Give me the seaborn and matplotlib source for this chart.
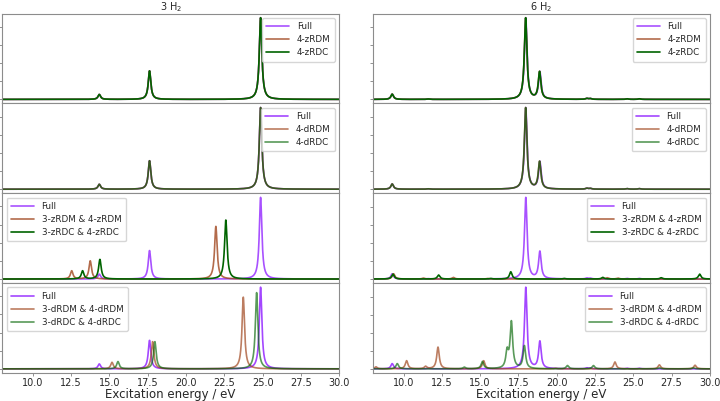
import matplotlib
matplotlib.use("Agg")
import matplotlib.pyplot as plt
import seaborn as sns
import numpy as np
from matplotlib.ticker import MultipleLocator, FormatStrFormatter

# peak positions (eV) and intensities, 3 H2 system
full_3_pos = [14.34, 17.62, 24.87]
full_3_int = [0.27, 1.57, 4.5]
z4_3_pos = [14.34, 17.62, 24.87]
z4_3_int = [0.27, 1.57, 4.5]
d4_3_pos = [14.34, 17.62, 24.87]
d4_3_int = [0.27, 1.57, 4.5]
zrdm_3_pos = [12.54, 13.75, 21.95]
zrdm_3_int = [0.45, 1.0, 2.9]
zrdc_3_pos = [13.25, 14.38, 22.6]
zrdc_3_int = [0.45, 1.08, 3.25]
drdm_3_pos = [15.17, 17.82, 23.74]
drdm_3_int = [0.36, 1.5, 3.95]
drdc_3_pos = [15.56, 17.97, 24.61]
drdc_3_int = [0.4, 1.5, 4.2]

# 6 H2 system
full_6_pos = [9.26, 11.6, 17.98, 18.9, 21.97, 22.2, 24.6, 25.4]
full_6_int = [0.29, 0.02, 4.5, 1.5, 0.05, 0.04, 0.03, 0.03]
z4_6_pos = [9.26, 11.6, 17.97, 18.88, 21.97, 22.2, 24.6, 25.4]
z4_6_int = [0.29, 0.02, 4.5, 1.5, 0.05, 0.04, 0.03, 0.03]
d4_6_pos = [9.26, 11.6, 17.97, 18.88, 21.97, 22.2, 24.6, 25.4]
d4_6_int = [0.29, 0.02, 4.5, 1.5, 0.05, 0.04, 0.03, 0.03]
zrdm_6_pos = [9.35, 11.3, 13.25, 15.5, 23.3, 24.0]
zrdm_6_int = [0.29, 0.05, 0.09, 0.03, 0.07, 0.05]
zrdc_6_pos = [9.31, 12.29, 15.7, 17.0, 20.5, 23.01, 26.82, 29.33]
zrdc_6_int = [0.27, 0.22, 0.03, 0.4, 0.03, 0.09, 0.07, 0.27]
drdm_6_pos = [8.2, 10.2, 11.44, 12.25, 15.23, 19.94, 23.8, 26.7, 29.03]
drdm_6_int = [0.11, 0.45, 0.13, 1.2, 0.45, 0.03, 0.38, 0.22, 0.2]
drdc_6_pos = [9.59, 13.97, 15.15, 16.76, 17.04, 17.89, 20.7, 22.4, 26.7, 28.93]
drdc_6_int = [0.29, 0.09, 0.4, 0.9, 2.55, 1.25, 0.18, 0.18, 0.05, 0.05]

gamma = 0.1  # lorentzian half width (eV)
energy = np.arange(8.0, 30.0, 0.005)


def spectrum(pos, inten):
    y = np.zeros_like(energy)
    for p, h in zip(pos, inten):
        y += h * gamma**2 / ((energy - p)**2 + gamma**2)
    return y


sns.set_style("white")
plt.rcParams['font.family'] = ['DejaVu Sans']

purple = '#9933ff'
brown = '#a0461e'
green = '#006400'

columns = [
    ("3 H$_2$", "upper left", [
        [(full_3_pos, full_3_int, "Full"), (z4_3_pos, z4_3_int, "4-zRDM"), (z4_3_pos, z4_3_int, "4-zRDC")],
        [(full_3_pos, full_3_int, "Full"), (d4_3_pos, d4_3_int, "4-dRDM"), (d4_3_pos, d4_3_int, "4-dRDC")],
        [(full_3_pos, full_3_int, "Full"), (zrdm_3_pos, zrdm_3_int, "3-zRDM & 4-zRDM"), (zrdc_3_pos, zrdc_3_int, "3-zRDC & 4-zRDC")],
        [(full_3_pos, full_3_int, "Full"), (drdm_3_pos, drdm_3_int, "3-dRDM & 4-dRDM"), (drdc_3_pos, drdc_3_int, "3-dRDC & 4-dRDC")],
    ]),
    ("6 H$_2$", "upper right", [
        [(full_6_pos, full_6_int, "Full"), (z4_6_pos, z4_6_int, "4-zRDM"), (z4_6_pos, z4_6_int, "4-zRDC")],
        [(full_6_pos, full_6_int, "Full"), (d4_6_pos, d4_6_int, "4-dRDM"), (d4_6_pos, d4_6_int, "4-dRDC")],
        [(full_6_pos, full_6_int, "Full"), (zrdm_6_pos, zrdm_6_int, "3-zRDM & 4-zRDM"), (zrdc_6_pos, zrdc_6_int, "3-zRDC & 4-zRDC")],
        [(full_6_pos, full_6_int, "Full"), (drdm_6_pos, drdm_6_int, "3-dRDM & 4-dRDM"), (drdc_6_pos, drdc_6_int, "3-dRDC & 4-dRDC")],
    ]),
]

fig, axes = plt.subplots(4, 2, figsize=(7.2, 4.01), dpi=100, sharex=True)
fig.subplots_adjust(left=0.003, right=0.986, top=0.966, bottom=0.07, hspace=0, wspace=0.1)

for c, (title, low_loc, rows) in enumerate(columns):
    for r, series in enumerate(rows):
        ax = axes[r, c]
        # z rows darker, d rows lighter
        alphas = [0.85, 0.8, 1.0] if r % 2 == 0 else [0.9, 0.7, 0.65]
        for (pos, inten, label), color, a in zip(series, [purple, brown, green], alphas):
            sns.lineplot(x=energy, y=spectrum(pos, inten), ax=ax, color=color, alpha=a,
                         lw=1.2, label=label, estimator=None)
        loc = "upper right" if r < 2 else low_loc
        ax.legend(loc=loc, fontsize=6.3, handlelength=2.6, borderpad=0.5, labelspacing=0.45,
                  handletextpad=0.9)
        ax.set_xlim(8, 30)
        ax.yaxis.set_major_locator(MultipleLocator(1))
        ax.set_yticklabels([])
        ax.set_ylabel('')
        ax.tick_params(axis='y', left=True, length=2, width=0.6, color='0.5')
        ax.tick_params(axis='x', bottom=(r == 3), length=2, width=0.6, color='0.5',
                       labelsize=7, pad=2)
        for s in ax.spines.values():
            s.set_color('0.55')
        if r == 0:
            ax.set_title(title, fontsize=7, pad=0.5)
        if r == 3:
            ax.xaxis.set_major_locator(MultipleLocator(2.5))
            ax.xaxis.set_major_formatter(FormatStrFormatter('%.1f'))
            ax.set_xlabel("Excitation energy / eV", fontsize=8.5, labelpad=0)

plt.savefig("out.png", dpi=100)
